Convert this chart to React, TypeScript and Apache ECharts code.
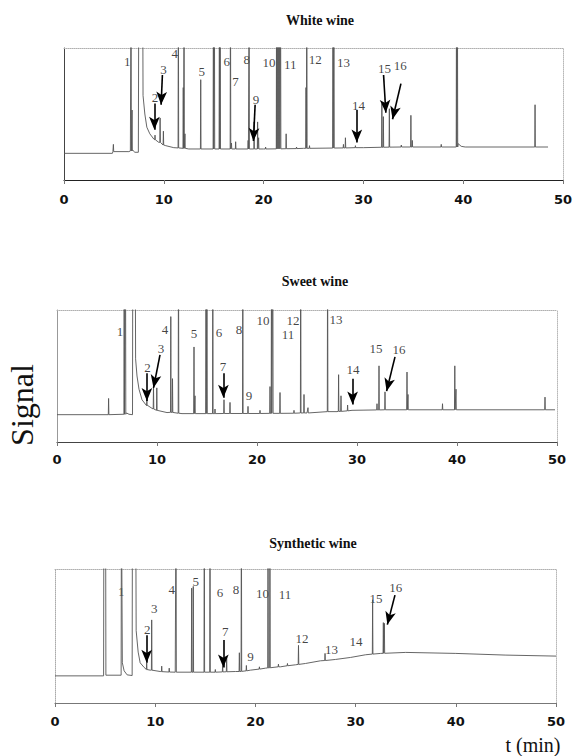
import React, { useEffect, useRef } from "react";
import * as echarts from "echarts";

// ---------- shared axis ----------
const X_MIN = 0;
const X_MAX = 50;
const X_STEP = 10;
const TITLES = ["White wine", "Sweet wine", "Synthetic wine"];
const PEAK_IDS = ["1", "2", "3", "4", "5", "6", "7", "8", "9", "10", "11", "12", "13", "14", "15", "16"];

// ---------- White wine ----------
// broad trace points [t (min), signal]
const whiteTrace = [
  [0, 20.2], [4.85, 20.2], [4.9, 21.5], [6.5, 21.5], [6.65, 22], [6.9, 22.5], [7.1, 21], [7.45, 21],
  [7.5, 160], [7.88, 160], [7.92, 64], [8.1, 50], [8.3, 40], [8.6, 35], [9.0, 31], [9.5, 28.5],
  [10.2, 26], [11, 24.5], [12.5, 23.5], [20, 23.5], [24, 24], [30, 24.5], [39.2, 25], [39.5, 27.5],
  [39.8, 25.5], [40.2, 25], [48.5, 25],
];
// narrow peaks [t, base, apex]
const whitePeaks = [
  [4.95, 21.5, 27], [6.72, 22, 160], [6.82, 22, 53], [9.12, 30.5, 34], [9.63, 28.5, 47], [9.96, 26.5, 37],
  [11.46, 24.3, 160], [11.95, 24, 70], [12.03, 24, 160], [12.12, 24, 35], [13.7, 23.5, 76],
  [14.97, 23.5, 160], [15.07, 23.5, 160], [15.57, 23.5, 160], [15.65, 23.5, 160], [16.68, 23.5, 160],
  [16.78, 23.5, 28], [17.2, 23.5, 29], [18.45, 23.5, 30], [18.55, 23.5, 160], [19.05, 23.5, 44],
  [19.4, 23.5, 44], [19.5, 23.5, 32], [20.2, 23.5, 25], [21.3, 23.6, 160], [21.4, 23.6, 160], [21.5, 23.6, 160],
  [21.6, 23.6, 160], [21.7, 23.6, 160], [22.26, 23.7, 35], [23.3, 23.8, 25], [24.25, 24, 70], [24.33, 24, 160],
  [24.6, 24, 26], [26.95, 24.2, 160], [27.05, 24.2, 160], [28.0, 24.3, 27], [28.2, 24.3, 32],
  [29.2, 24.5, 26], [31.85, 24.8, 58], [32.0, 24.8, 48], [32.6, 24.9, 54], [33.8, 25, 26.5],
  [34.76, 25, 49], [34.9, 25, 30], [37.8, 25, 27], [39.33, 25, 160], [39.42, 25, 160], [47.2, 25, 57],
];
const whiteLabelPos = [
  [6.35, 89.9], [9.12, 62.8], [9.96, 83.5], [11.1, 96.2], [13.8, 82.3], [16.3, 89.9], [17.18, 74.7], [18.3, 91.1],
  [19.25, 60.8], [20.55, 89.1], [22.66, 87.3], [25.17, 91.1], [28.0, 89.1], [29.5, 56.2], [32.12, 84.8], [33.7, 86.6],
];
// arrows [x1, y1, x2, y2]
const whiteArrows = [
  [9.06, 58, 9.06, 38], [9.86, 79.5, 9.73, 57], [19.15, 57, 18.98, 29.5],
  [29.34, 53, 29.34, 28.5], [32.02, 79.5, 32.25, 51], [33.76, 73, 32.92, 46],
];

// ---------- Sweet wine ----------
const sweetTrace = [
  [0, 20.7], [5.0, 20.7], [6.6, 21], [6.95, 22], [7.2, 21], [7.55, 20.7], [7.58, 160], [7.82, 160],
  [7.86, 63], [8.0, 50], [8.2, 40], [8.5, 32], [9.0, 28], [9.5, 25.5], [10.3, 23.5], [11, 22.3],
  [12.5, 21.5], [20, 21.6], [25, 22], [28, 23], [29.5, 24], [33, 24.4], [49.8, 24.4],
];
const sweetPeaks = [
  [5.16, 20.7, 33], [6.72, 21, 160], [6.85, 21, 160], [8.99, 27.5, 32], [9.65, 25, 42], [9.98, 24, 41],
  [11.38, 22.5, 95], [11.55, 22.4, 48], [12.15, 21.8, 160], [13.7, 21.5, 72], [13.8, 21.5, 35],
  [14.9, 21.5, 160], [15.0, 21.5, 160], [15.58, 21.5, 160], [15.8, 21.5, 25], [16.7, 21.6, 32],
  [17.3, 21.6, 30], [18.58, 21.6, 160], [19.1, 21.6, 27], [20.3, 21.6, 24], [21.3, 21.7, 42],
  [21.45, 21.7, 160], [21.58, 21.7, 160], [22.3, 21.7, 37.5], [23.7, 21.8, 24], [24.37, 22, 160],
  [24.7, 22, 36], [25.1, 22, 26], [27.06, 23, 160], [28.16, 23.2, 51], [28.4, 23.2, 35], [29.06, 23.6, 28],
  [32.0, 24.3, 29], [32.2, 24.3, 57.7], [32.8, 24.4, 38], [35.0, 24.4, 53], [35.1, 24.4, 36],
  [38.55, 24.4, 29], [39.78, 24.4, 57.7], [39.9, 24.4, 40], [48.8, 24.4, 34],
];
const sweetLabelPos = [
  [6.3, 83.6], [9.05, 56.7], [10.4, 71], [10.8, 85.4], [13.7, 82.4], [16.2, 83], [16.6, 57], [18.2, 85],
  [19.2, 35], [20.6, 91.7], [23.1, 81.6], [23.6, 92.4], [27.9, 93], [29.6, 55], [31.9, 70.5], [34.2, 70],
];
const sweetArrows = [
  [8.99, 52, 8.99, 31], [10.3, 66, 9.65, 41], [16.64, 52, 16.64, 33.5],
  [29.56, 48, 29.56, 28.5], [33.8, 64.5, 32.96, 38.5],
];

// ---------- Synthetic wine ----------
const synthTrace = [
  [0, 20.25], [4.85, 20.25], [4.88, 160], [5.05, 160], [5.08, 20.75], [6.6, 20.75], [6.63, 160],
  [6.68, 160], [6.72, 30], [6.9, 24], [7.2, 21], [7.7, 20.5], [7.73, 160], [8.05, 160], [8.1, 54],
  [8.3, 38], [8.5, 30], [8.9, 26.5], [9.5, 24.5], [10.5, 23.5], [12, 23], [16, 23], [18, 23.5],
  [19.5, 24.5], [21, 26], [22.5, 27], [24, 28.5], [25, 29.5], [26.5, 31.5], [28, 32.5], [29.5, 34],
  [31, 36], [32.5, 37], [35, 37.75], [40, 37], [45, 35.75], [50, 35],
];
const synthPeaks = [
  [9.15, 25, 30], [9.65, 24.5, 62], [10.65, 23.4, 27.5], [11.4, 23.1, 26], [12.08, 23, 160],
  [13.64, 23, 85.7], [13.8, 23, 87], [14.9, 23, 160], [15.47, 23, 160], [16.0, 23, 25],
  [16.73, 23.2, 28], [17.13, 23.3, 34.5], [18.4, 23.5, 37.5], [18.6, 23.6, 160], [19.1, 24, 28],
  [20.4, 25.3, 27], [21.26, 26.2, 160], [21.45, 26.3, 160], [22.3, 27, 29], [23.2, 27.8, 29.5],
  [24.3, 28.8, 43], [26.95, 31.7, 37], [31.7, 36.5, 77], [32.77, 37.1, 60], [32.87, 37.1, 59.5],
];
const synthLabelPos = [
  [6.6, 83], [9.2, 55], [9.9, 70.75], [11.65, 85], [14.04, 90.75], [16.47, 82.5], [17.0, 53], [18.06, 84.5],
  [19.5, 35], [20.7, 82], [22.95, 81], [24.65, 48], [27.6, 40], [30.04, 45.75], [32.04, 78], [34.0, 86],
];
const synthArrows = [
  [9.15, 50.5, 9.15, 30], [16.8, 47, 16.8, 26.5], [33.93, 80.5, 33.17, 58.5],
];

// ---------- layout / styles ----------
const GRIDS = [
  { left: 64, top: 48, width: 499, height: 132 },
  { left: 57, top: 310, width: 500, height: 132 },
  { left: 55, top: 569, width: 501, height: 134 },
];
const AXIS_COLORS = ["#222", "#444", "#777"];
const LEFT_COLORS = ["#444", "#999", "#aaa"];
const LABEL_MARGINS = [13, 11, 12];
const TITLE_POS = [[320, 20], [315, 281], [313, 543]];

const SERIF = "'Liberation Serif', 'DejaVu Serif', serif";
const INK = "#111";

function buildTrace(trace: number[][], peaks: number[][]) {
  const pts: number[][] = trace.map((p) => [p[0], p[1]]);
  peaks.forEach(([t, b, h]) => {
    pts.push([t - 0.03, b], [t, h], [t + 0.03, b]);
  });
  pts.sort((a, b) => a[0] - b[0]);
  return pts;
}

const panels = [
  { trace: whiteTrace, peaks: whitePeaks, labels: whiteLabelPos, arrows: whiteArrows },
  { trace: sweetTrace, peaks: sweetPeaks, labels: sweetLabelPos, arrows: sweetArrows },
  { trace: synthTrace, peaks: synthPeaks, labels: synthLabelPos, arrows: synthArrows },
];

function buildOption() {
  const xAxis: any[] = [];
  const yAxis: any[] = [];
  const series: any[] = [];
  panels.forEach((p, i) => {
    xAxis.push({
      type: "value", gridIndex: i, min: X_MIN, max: X_MAX, interval: X_STEP,
      axisLine: { show: true, onZero: false, lineStyle: { color: AXIS_COLORS[i], width: 1.2 } },
      axisTick: { show: true, length: 4, lineStyle: { color: "#777" } },
      axisLabel: {
        margin: LABEL_MARGINS[i], color: INK, fontFamily: "'DejaVu Sans', sans-serif",
        fontWeight: "bold", fontSize: 13,
      },
      splitLine: { show: false },
    });
    xAxis.push({
      type: "value", gridIndex: i, min: X_MIN, max: X_MAX, position: "top",
      axisLine: { show: true, onZero: false, lineStyle: { color: "#b0b0b0", type: "dotted", width: 1 } },
      axisTick: { show: false }, axisLabel: { show: false }, splitLine: { show: false },
    });
    yAxis.push({
      type: "value", gridIndex: i, min: 0, max: 100,
      axisLine: {
        show: true, onZero: false,
        lineStyle: { color: LEFT_COLORS[i], width: 1, type: i === 2 ? "dotted" : "solid" },
      },
      axisTick: { show: false }, axisLabel: { show: false }, splitLine: { show: false },
    });
    yAxis.push({
      type: "value", gridIndex: i, min: 0, max: 100, position: "right",
      axisLine: { show: true, onZero: false, lineStyle: { color: "#b8b8b8", type: "dotted", width: 1 } },
      axisTick: { show: false }, axisLabel: { show: false }, splitLine: { show: false },
    });
    series.push({
      type: "line", xAxisIndex: i * 2, yAxisIndex: i * 2,
      data: buildTrace(p.trace, p.peaks),
      showSymbol: false, symbol: "none", clip: true,
      itemStyle: { color: "#555" },
      lineStyle: { color: "#555", width: 0.9 },
      silent: true,
    });
    series.push({
      type: "scatter", xAxisIndex: i * 2, yAxisIndex: i * 2,
      symbolSize: 0, silent: true,
      itemStyle: { color: INK },
      data: p.labels.map((pos, k) => ({ value: pos, name: PEAK_IDS[k] })),
      label: {
        show: true, position: "inside", formatter: "{b}",
        fontFamily: SERIF, fontSize: 13, color: INK,
        textBorderWidth: 0,
      },
      markLine: {
        silent: true, animation: false,
        symbol: ["none", "arrow"], symbolSize: [8, 13],
        label: { show: false },
        itemStyle: { color: "#000" },
        lineStyle: { color: "#000", width: 1.6, type: "solid" },
        data: p.arrows.map(([x1, y1, x2, y2]) => [{ coord: [x1, y1] }, { coord: [x2, y2] }]),
      },
    });
  });

  const graphic: any[] = TITLES.map((t, i) => ({
    type: "text", x: TITLE_POS[i][0], y: TITLE_POS[i][1],
    style: {
      text: t, fontFamily: SERIF, fontWeight: "bold", fontSize: 14, fill: INK,
      textAlign: "center", textVerticalAlign: "middle",
    },
  }));
  graphic.push({
    type: "text", x: 22, y: 405, rotation: Math.PI / 2,
    style: {
      text: "Signal", fontFamily: SERIF, fontSize: 32, fill: INK,
      textAlign: "center", textVerticalAlign: "middle",
    },
  });
  graphic.push({
    type: "text", x: 533, y: 745,
    style: {
      text: "t (min)", fontFamily: SERIF, fontSize: 20, fill: INK,
      textAlign: "center", textVerticalAlign: "middle",
    },
  });

  return {
    animation: false,
    backgroundColor: "#fff",
    color: [INK],
    grid: GRIDS.map((g) => ({ ...g, containLabel: false })),
    xAxis, yAxis, series, graphic,
  };
}

export default function App() {
  const ref = useRef<HTMLDivElement>(null);
  useEffect(() => {
    if (!ref.current) return;
    const chart = echarts.init(ref.current, undefined, { renderer: "svg" });
    chart.setOption(buildOption() as any);
    return () => chart.dispose();
  }, []);
  return (
    <div
      ref={ref}
      style={{ position: "fixed", left: 0, top: 0, width: 576, height: 756, background: "#fff" }}
    />
  );
}
